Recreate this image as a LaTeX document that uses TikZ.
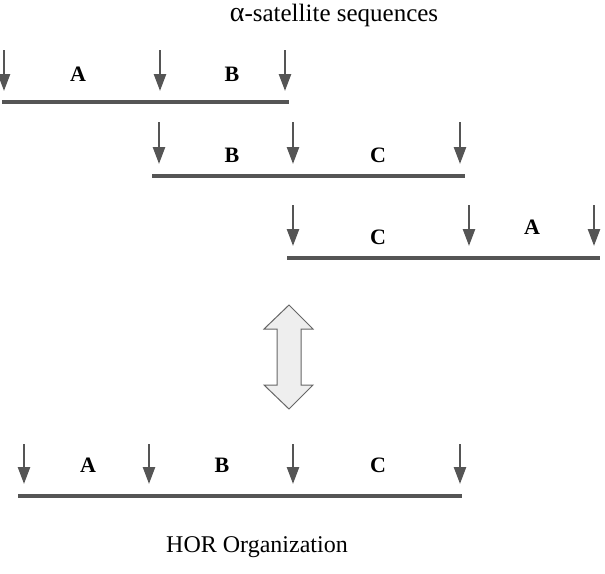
\documentclass[tikz,border=0pt]{standalone}
\usepackage{fontspec}
\setmainfont{Liberation Serif}
\usetikzlibrary{arrows.meta}
\definecolor{dg}{HTML}{555555}
\definecolor{lg}{HTML}{EEEEEE}
\tikzset{
  cutarrow/.style={draw=dg, line width=2.5pt, -{Triangle[width=12pt,length=17pt]}},
  seqline/.style={draw=dg, line width=4pt},
  lab/.style={font=\fontsize{22}{24}\selectfont\bfseries, inner sep=0pt},
  captext/.style={font=\fontsize{24}{26}\selectfont, inner sep=0pt},
}
\begin{document}
\begin{tikzpicture}[x=1pt,y=-1pt]
\useasboundingbox (0,0) rectangle (605,573);
\node[captext, font=\fontsize{25}{27}\selectfont, anchor=base] (title) at (334,21) {{\fontsize{28}{28}\selectfont α}-satellite sequences};
% row 1
\foreach \n/\x in {a1/4,b1/160,c1/285}{
  \coordinate (\n t) at (\x,50); \coordinate (\n b) at (\x,91);
  \draw[cutarrow] (\n t) -- (\n b);}
\coordinate (l1s) at (2,102); \coordinate (l1e) at (289,102);
\draw[seqline] (l1s) -- (l1e);
\node[lab] (A1) at (78,74) {A};
\node[lab] (B1) at (232,74) {B};
% row 2
\foreach \n/\x in {a2/159,b2/293,c2/460}{
  \coordinate (\n t) at (\x,122); \coordinate (\n b) at (\x,164);
  \draw[cutarrow] (\n t) -- (\n b);}
\coordinate (l2s) at (152,176); \coordinate (l2e) at (465,176);
\draw[seqline] (l2s) -- (l2e);
\node[lab] (B2) at (232,155) {B};
\node[lab] (C2) at (378,155) {C};
% row 3
\foreach \n/\x in {a3/293,b3/469,c3/594}{
  \coordinate (\n t) at (\x,205); \coordinate (\n b) at (\x,246);
  \draw[cutarrow] (\n t) -- (\n b);}
\coordinate (l3s) at (287,258); \coordinate (l3e) at (600,258);
\draw[seqline] (l3s) -- (l3e);
\node[lab] (C3) at (378,237) {C};
\node[lab] (A3) at (532,227) {A};
% double arrow
\draw[draw=gray!80!black, fill=lg, line width=1pt]
  (289,305) -- (313,329) -- (301,329) -- (301,385) -- (313,385) -- (289,409)
  -- (264,385) -- (277,385) -- (277,329) -- (264,329) -- cycle;
% bottom row
\foreach \n/\x in {a4/24,b4/149,c4/293,d4/460}{
  \coordinate (\n t) at (\x,444); \coordinate (\n b) at (\x,484);
  \draw[cutarrow] (\n t) -- (\n b);}
\coordinate (l4s) at (18,496); \coordinate (l4e) at (462,496);
\draw[seqline] (l4s) -- (l4e);
\node[lab] (A4) at (88,465) {A};
\node[lab] (B4) at (222,465) {B};
\node[lab] (C4) at (378,465) {C};
\node[captext] (hor) at (257,547) {HOR Organization};
\end{tikzpicture}
\end{document}
